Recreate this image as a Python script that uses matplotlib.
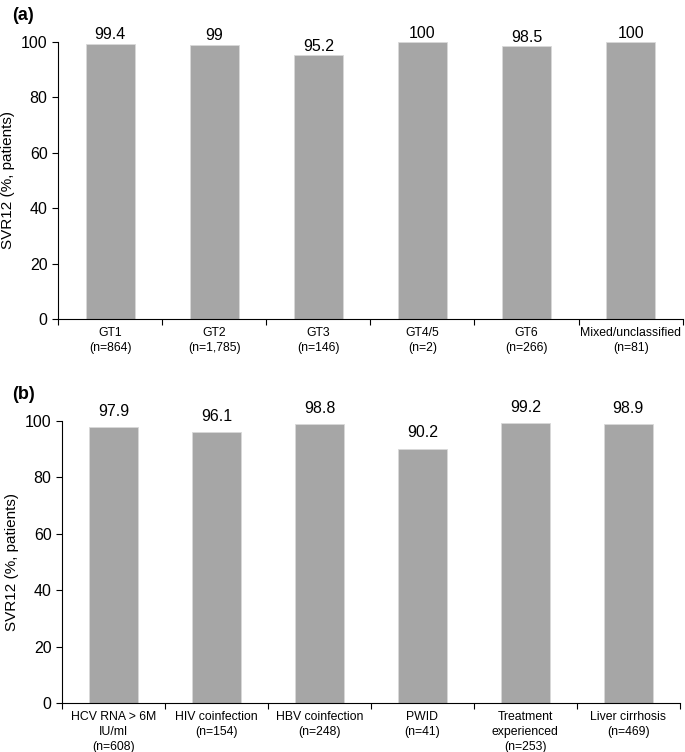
import numpy as np
import matplotlib
matplotlib.use("Agg")
import matplotlib.pyplot as plt

plt.rcParams["font.family"] = ["Liberation Sans", "DejaVu Sans"]

# panel (a): genotypes
labels_a = ["GT1\n(n=864)", "GT2\n(n=1,785)", "GT3\n(n=146)", "GT4/5\n(n=2)",
            "GT6\n(n=266)", "Mixed/unclassified\n(n=81)"]
values_a = [99.4, 99, 95.2, 100, 98.5, 100]
text_a = ["99.4", "99", "95.2", "100", "98.5", "100"]

# panel (b): subgroups
labels_b = ["HCV RNA > 6M\nIU/ml\n(n=608)", "HIV coinfection\n(n=154)",
            "HBV coinfection\n(n=248)", "PWID\n(n=41)",
            "Treatment\nexperienced\n(n=253)", "Liver cirrhosis\n(n=469)"]
values_b = [97.9, 96.1, 98.8, 90.2, 99.2, 98.9]
text_b = ["97.9", "96.1", "98.8", "90.2", "99.2", "98.9"]

bar_color = "#a6a6a6"


def draw_panel(ax, labels, values, texts, pad):
    x = np.arange(len(values))
    ax.bar(x, values, width=0.47, color=bar_color, edgecolor="#d9d9d9", linewidth=0.6)
    for xi, v, t in zip(x, values, texts):
        ax.annotate(t, (xi, v), xytext=(0, pad), textcoords="offset points",
                    ha="center", va="bottom", fontsize=11.5)
    ax.set_xlim(-0.5, len(values) - 0.5)
    ax.set_ylim(0, 100)
    ax.set_yticks([0, 20, 40, 60, 80, 100])
    ax.tick_params(axis="y", labelsize=11.5, length=4, width=0.8, direction="out")
    ax.set_xticks(x)
    ax.set_xticklabels(labels, fontsize=8.8, linespacing=1.3)
    ax.tick_params(axis="x", which="major", length=0, pad=6)
    ax.set_xticks(np.arange(len(values) + 1) - 0.5, minor=True)
    ax.tick_params(axis="x", which="minor", length=4, width=0.8, direction="out")
    ax.spines["top"].set_visible(False)
    ax.spines["right"].set_visible(False)
    ax.spines["left"].set_linewidth(0.8)
    ax.spines["bottom"].set_linewidth(0.8)
    ax.set_ylabel("SVR12 (%, patients)", fontsize=11)


fig = plt.figure(figsize=(6.85, 7.52), dpi=100)
ax1 = fig.add_axes([0.0847, 0.5758, 0.912, 0.3684])
ax2 = fig.add_axes([0.0905, 0.0652, 0.902, 0.3750])

draw_panel(ax1, labels_a, values_a, text_a, 1)
draw_panel(ax2, labels_b, values_b, text_b, 6)

fig.text(0.018, 0.98, "(a)", fontsize=13, fontweight="bold", va="center")
fig.text(0.018, 0.475, "(b)", fontsize=13, fontweight="bold", va="center")

fig.savefig("out.png", dpi=100)
